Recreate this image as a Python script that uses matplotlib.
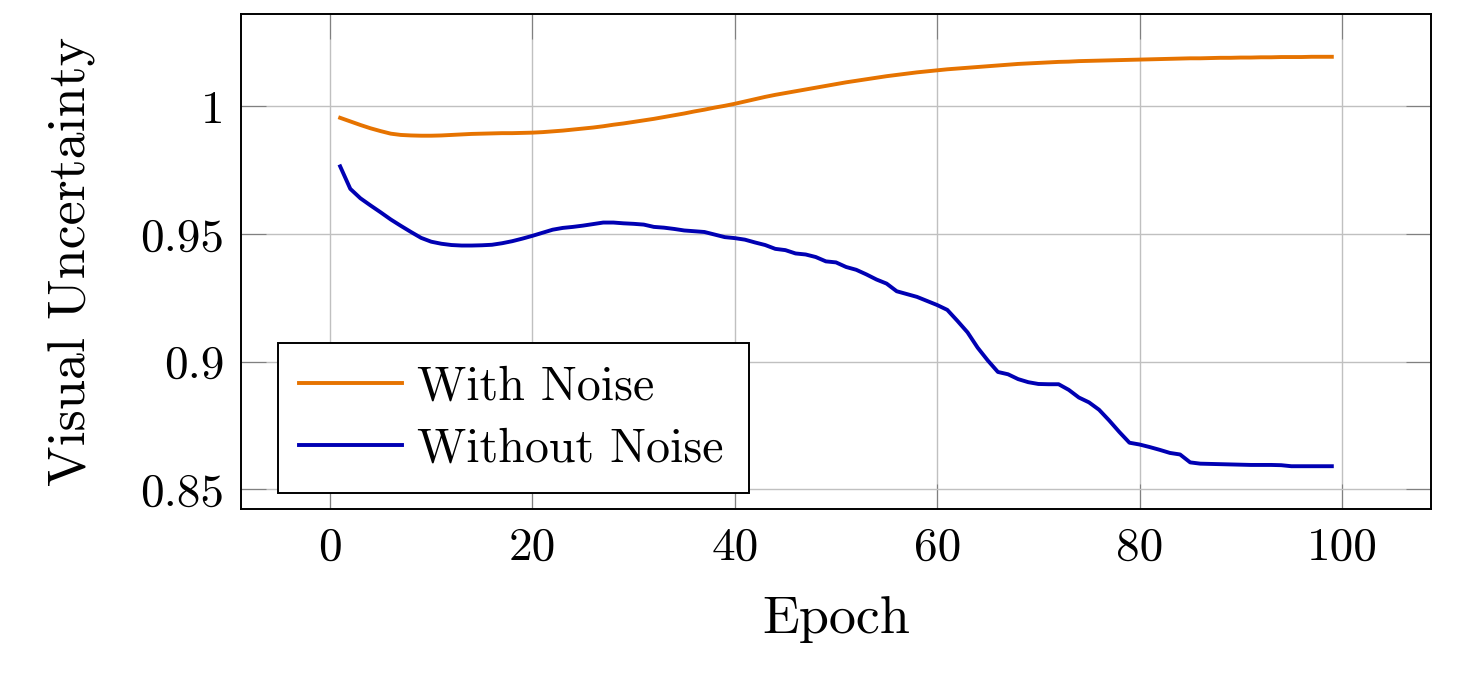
import matplotlib
matplotlib.use("Agg")
import matplotlib.pyplot as plt

plt.rcParams['font.family'] = 'serif'
plt.rcParams['font.serif'] = ['cmr10', 'DejaVu Serif']
plt.rcParams['mathtext.fontset'] = 'cm'
plt.rcParams['axes.formatter.use_mathtext'] = True

epochs = list(range(1, 100))

with_noise = [
    0.9955, 0.9941, 0.9927, 0.9914, 0.9903, 0.9893, 0.9888, 0.9886, 0.9885, 0.9885,
    0.9886, 0.9888, 0.9890, 0.9892, 0.9893, 0.9894, 0.9895, 0.9895, 0.9896, 0.9897,
    0.9899, 0.9902, 0.9905, 0.9909, 0.9913, 0.9917, 0.9922, 0.9928, 0.9933, 0.9939,
    0.9945, 0.9951, 0.9958, 0.9965, 0.9972, 0.9980, 0.9987, 0.9995, 1.0002, 1.0010,
    1.0019, 1.0028, 1.0037, 1.0045, 1.0052, 1.0059, 1.0066, 1.0073, 1.0080, 1.0087,
    1.0094, 1.0100, 1.0106, 1.0112, 1.0118, 1.0123, 1.0128, 1.0133, 1.0137, 1.0141,
    1.0145, 1.0148, 1.0151, 1.0154, 1.0157, 1.0160, 1.0163, 1.0166, 1.0168, 1.0170,
    1.0172, 1.0174, 1.0175, 1.0177, 1.0178, 1.0179, 1.0180, 1.0181, 1.0182, 1.0183,
    1.0184, 1.0185, 1.0186, 1.0187, 1.0188, 1.0188, 1.0189, 1.0190, 1.0190, 1.0191,
    1.0191, 1.0192, 1.0192, 1.0193, 1.0193, 1.0193, 1.0194, 1.0194, 1.0194,
]

without_noise = [
    0.9765, 0.9677, 0.9640, 0.9612, 0.9585, 0.9557, 0.9532, 0.9508, 0.9485, 0.9470,
    0.9462, 0.9457, 0.9455, 0.9455, 0.9456, 0.9458, 0.9464, 0.9472, 0.9482, 0.9493,
    0.9505, 0.9517, 0.9524, 0.9528, 0.9533, 0.9539, 0.9545, 0.9545, 0.9542, 0.9540,
    0.9537, 0.9528, 0.9525, 0.9520, 0.9514, 0.9511, 0.9508, 0.9498, 0.9488, 0.9484,
    0.9478, 0.9467, 0.9457, 0.9442, 0.9437, 0.9424, 0.9420, 0.9410, 0.9393, 0.9389,
    0.9371, 0.9360, 0.9342, 0.9322, 0.9306, 0.9276, 0.9265, 0.9254, 0.9238, 0.9222,
    0.9203, 0.9160, 0.9115, 0.9055, 0.9005, 0.8960, 0.8951, 0.8932, 0.8920, 0.8913,
    0.8912, 0.8912, 0.8890, 0.8860, 0.8841, 0.8812, 0.8770, 0.8725, 0.8683, 0.8676,
    0.8666, 0.8655, 0.8643, 0.8637, 0.8606, 0.8601, 0.8600, 0.8599, 0.8598, 0.8597,
    0.8596, 0.8596, 0.8596, 0.8595, 0.8591, 0.8591, 0.8591, 0.8591, 0.8591,
]

x_ticks = [0, 20, 40, 60, 80, 100]
x_tick_labels = ['0', '20', '40', '60', '80', '100']
y_ticks = [0.85, 0.9, 0.95, 1.0]
y_tick_labels = ['0.85', '0.9', '0.95', '1']

series_names = ['With Noise', 'Without Noise']
series_colors = ['#E67300', '#0000B3']

W, H = 1470, 678
fig = plt.figure(figsize=(W / 100, H / 100), dpi=100)
ax = fig.add_axes([241 / W, (H - 509) / H, (1431 - 241) / W, (509 - 14) / H])

for vals, name, col in zip([with_noise, without_noise], series_names, series_colors):
    ax.plot(epochs, vals, color=col, lw=2.8, label=name, solid_joinstyle='round', zorder=3)

ax.set_xlim(-8.8, 108.8)
ax.set_ylim(0.84235, 1.03615)

ax.set_xticks(x_ticks)
ax.set_xticklabels(x_tick_labels)
ax.set_yticks(y_ticks)
ax.set_yticklabels(y_tick_labels)

ax.grid(True, color='#c0c0c0', lw=1.0, zorder=0)
ax.set_axisbelow(True)
ax.tick_params(direction='in', length=18, width=0.8, color='#808080',
               top=True, right=True, labelsize=34)
ax.tick_params(axis='x', pad=13)
ax.tick_params(axis='y', pad=12)
for s in ax.spines.values():
    s.set_linewidth(1.4)
    s.set_color('black')

ax.set_xlabel('Epoch', fontsize=39, labelpad=20)
ax.set_ylabel('Visual Uncertainty', fontsize=39, labelpad=32)

leg = ax.legend(loc='lower left', bbox_to_anchor=(0.0308, 0.0317, 0.3963, 0.3), mode='expand',
                borderaxespad=0, fontsize=34.5, frameon=True, fancybox=False, framealpha=1,
                edgecolor='black', handlelength=2.13, handletextpad=0.33,
                borderpad=0.455, labelspacing=0.375)
leg.get_frame().set_linewidth(1.4)

fig.savefig('out.png', dpi=100)
